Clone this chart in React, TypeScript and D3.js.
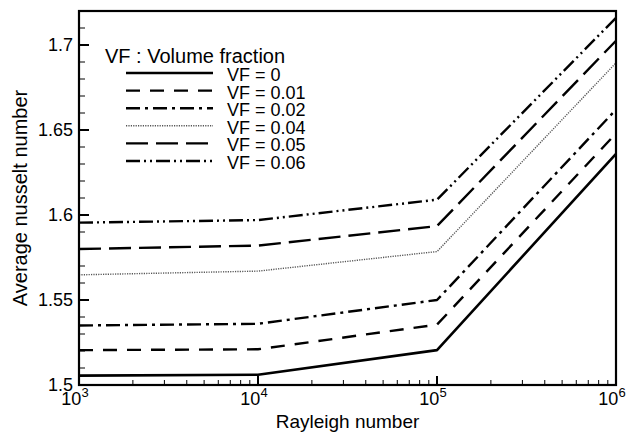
import { useEffect, useRef } from "react";
import * as d3 from "d3";

// Rayleigh numbers and the average Nusselt number per volume fraction
const rayleigh = [1e3, 1e4, 1e5, 1e6];
const vfLabels = ["VF = 0", "VF = 0.01", "VF = 0.02", "VF = 0.04", "VF = 0.05", "VF = 0.06"];
const nuVF0 = [1.5055, 1.506, 1.5205, 1.636];
const nuVF001 = [1.5205, 1.521, 1.5355, 1.648];
const nuVF002 = [1.535, 1.536, 1.55, 1.662];
const nuVF004 = [1.5648, 1.567, 1.5785, 1.6895];
const nuVF005 = [1.58, 1.582, 1.5935, 1.7025];
const nuVF006 = [1.5955, 1.597, 1.609, 1.716];
const yTicks = [1.5, 1.55, 1.6, 1.65, 1.7];

const series = [nuVF0, nuVF001, nuVF002, nuVF004, nuVF005, nuVF006];
const dashes = ["", "14,10", "14,5,3,5", "1.2,1.2", "22,8", "14,4,2,4,2,4"];
const widths = [2.6, 2.4, 2.4, 1.4, 2.4, 2.4];
const colors = ["#000", "#000", "#000", "#555", "#000", "#000"];

export default function App() {
  const ref = useRef<SVGSVGElement>(null);

  useEffect(() => {
    if (!ref.current) return;
    const svg = d3.select(ref.current);
    svg.selectAll("*").remove();

    const width = 628;
    const height = 433;
    const margin = { top: 11, right: 12, bottom: 48, left: 79 };
    const font = "'Liberation Sans', Arial, Helvetica, sans-serif";

    const x = d3.scaleLog().domain([1e3, 1e6]).range([margin.left, width - margin.right]);
    const y = d3.scaleLinear().domain([1.5, 1.72]).range([height - margin.bottom, margin.top]);

    const g = svg.append("g");

    // lines
    const line = d3.line<number>()
      .x((_, i) => x(rayleigh[i]))
      .y(d => y(d));

    series.forEach((s, i) => {
      g.append("path")
        .datum(s)
        .attr("d", line)
        .attr("fill", "none")
        .attr("stroke", colors[i])
        .attr("stroke-width", widths[i])
        .attr("stroke-dasharray", dashes[i] || null)
        .attr("stroke-linejoin", "round");
    });

    // frame
    g.append("rect")
      .attr("x", margin.left)
      .attr("y", margin.top)
      .attr("width", width - margin.left - margin.right)
      .attr("height", height - margin.top - margin.bottom)
      .attr("fill", "none")
      .attr("stroke", "#000")
      .attr("stroke-width", 2.2);

    // y ticks (inward)
    const isMajor = (d: number) => yTicks.some(t => Math.abs(t - d) < 1e-9);
    const yMinor = d3.range(150, 172).map(v => v / 100);
    g.append("g").selectAll("line")
      .data(yMinor)
      .join("line")
      .attr("x1", margin.left)
      .attr("x2", d => margin.left + (isMajor(d) ? 10 : 6))
      .attr("y1", d => y(d))
      .attr("y2", d => y(d))
      .attr("stroke", "#000")
      .attr("stroke-width", d => (isMajor(d) ? 2 : 1));

    g.append("g").selectAll("text")
      .data(yTicks)
      .join("text")
      .attr("x", margin.left - 6)
      .attr("y", d => y(d) + 6)
      .attr("text-anchor", "end")
      .attr("font-family", font)
      .attr("font-size", 18)
      .text(d => String(+d.toFixed(2)));

    // x ticks (inward)
    const xMinor: number[] = [];
    for (let e = 3; e < 6; e++) for (let m = 2; m <= 9; m++) xMinor.push(m * Math.pow(10, e));
    const xMajor = [1e3, 1e4, 1e5, 1e6];
    g.append("g").selectAll("line")
      .data(xMinor)
      .join("line")
      .attr("x1", d => x(d))
      .attr("x2", d => x(d))
      .attr("y1", height - margin.bottom)
      .attr("y2", height - margin.bottom - 5)
      .attr("stroke", "#000")
      .attr("stroke-width", 1);
    g.append("g").selectAll("line")
      .data(xMajor)
      .join("line")
      .attr("x1", d => x(d))
      .attr("x2", d => x(d))
      .attr("y1", height - margin.bottom)
      .attr("y2", height - margin.bottom - 9)
      .attr("stroke", "#000")
      .attr("stroke-width", 2);

    const xl = g.append("g").selectAll("text")
      .data(xMajor)
      .join("text")
      .attr("x", d => x(d) - 4)
      .attr("y", 405)
      .attr("text-anchor", "middle")
      .attr("font-family", font)
      .attr("font-size", 18);
    xl.append("tspan").text("10");
    xl.append("tspan")
      .attr("dy", -8)
      .attr("font-size", 13)
      .text(d => String(Math.round(Math.log10(d))));

    // axis titles
    g.append("text")
      .attr("x", (margin.left + width - margin.right) / 2)
      .attr("y", 428)
      .attr("text-anchor", "middle")
      .attr("font-family", font)
      .attr("font-size", 19)
      .text("Rayleigh number");

    g.append("text")
      .attr("transform", `translate(27,${(margin.top + height - margin.bottom) / 2}) rotate(-90)`)
      .attr("text-anchor", "middle")
      .attr("font-family", font)
      .attr("font-size", 20)
      .text("Average nusselt number");

    // legend
    const lg = g.append("g");
    lg.append("text")
      .attr("x", 105)
      .attr("y", 63)
      .attr("font-family", font)
      .attr("font-size", 20)
      .text("VF : Volume fraction");
    vfLabels.forEach((lab, i) => {
      const ly = 73 + i * 17.6;
      lg.append("line")
        .attr("x1", 126)
        .attr("x2", 213)
        .attr("y1", ly)
        .attr("y2", ly)
        .attr("stroke", colors[i])
        .attr("stroke-width", widths[i])
        .attr("stroke-dasharray", dashes[i] || null);
      lg.append("text")
        .attr("x", 227)
        .attr("y", ly + 8)
        .attr("font-family", font)
        .attr("font-size", 18)
        .text(lab);
    });
  }, []);

  return <svg ref={ref} width={628} height={433} style={{ position: "absolute", left: 0, top: 0 }} />;
}
